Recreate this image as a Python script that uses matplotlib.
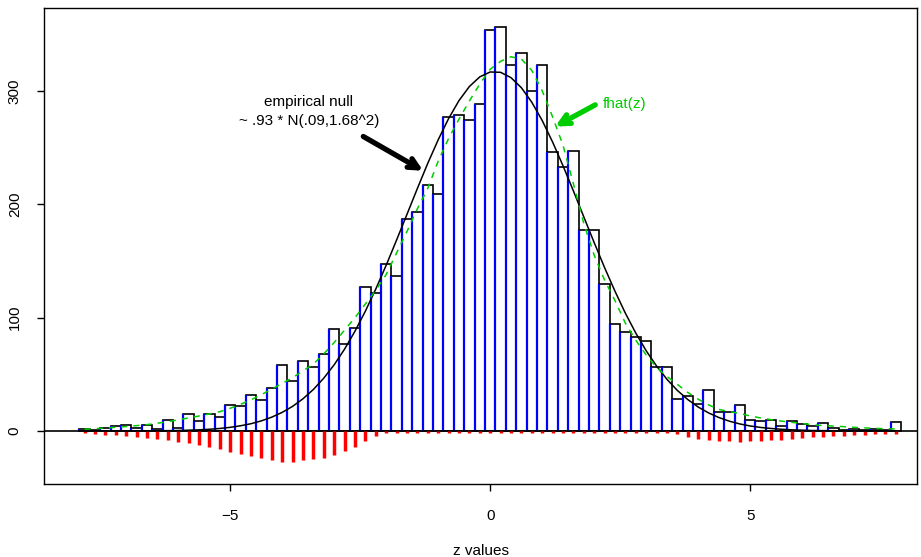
import numpy as np
import matplotlib.pyplot as plt

plt.rcParams['font.family'] = ['Liberation Sans', 'DejaVu Sans']

# histogram of z values: bins of width 0.2 starting at -7.9
bin_left = -7.9
bin_width = 0.2
counts = [2, 1, 3, 4, 5, 3, 5, 2, 10, 3,
          15, 9, 15, 12, 23, 22, 32, 27, 38, 58,
          44, 62, 56, 68, 90, 77, 91, 127, 122, 147,
          137, 187, 193, 217, 209, 277, 279, 274, 288, 354,
          356, 323, 333, 300, 323, 246, 233, 247, 177, 177,
          130, 94, 87, 83, 79, 56, 56, 28, 31, 24,
          36, 17, 17, 23, 10, 9, 10, 4, 9, 6,
          4, 7, 3, 1, 2, 1, 2, 1, 8]

# empirical null curve, read at the bin centres
null_fit = [0.0, 0.0, 0.0, 0.0, 0.0, 0.1, 0.1, 0.2, 0.3, 0.4,
            0.7, 1.0, 1.5, 2.2, 3.2, 4.6, 6.4, 8.9, 12.2, 16.4,
            21.7, 28.4, 36.6, 46.6, 58.4, 72.2, 88.0, 105.7, 125.2, 146.2,
            168.4, 191.1, 213.9, 236.1, 256.8, 275.5, 291.4, 303.8, 312.3, 316.6,
            316.3, 311.6, 302.7, 289.9, 273.8, 254.8, 233.9, 211.7, 188.8, 166.1,
            144.0, 123.2, 103.8, 86.3, 70.7, 57.2, 45.5, 35.7, 27.7, 21.1,
            15.9, 11.8, 8.6, 6.2, 4.4, 3.1, 2.2, 1.5, 1.0, 0.7,
            0.4, 0.3, 0.2, 0.1, 0.1, 0.0, 0.0, 0.0, 0.0]

# fhat(z), read at the bin centres
fhat = [1.5, 2.0, 2.6, 3.2, 3.9, 4.7, 5.6, 6.8, 8.2, 9.8,
        11.5, 13.2, 15.0, 17.0, 20.0, 23.5, 27.5, 32, 37, 42,
        47, 53, 59, 68, 78, 89, 100, 112, 124, 138,
        157, 176, 196, 214, 238, 258, 275, 291, 306, 319,
        326, 330, 328, 318, 300, 277, 252, 218, 183, 155,
        133, 115, 95, 80, 67, 56, 48, 41, 34, 28,
        23, 19, 17, 15.5, 13.2, 11.5, 10.0, 8.7, 7.6, 6.6,
        5.5, 4.8, 4.3, 3.8, 3.2, 2.7, 2.3, 2.0, 1.7]

# estimated non-null counts (drawn downward)
nonnull = [2, 2.6, 3.2, 3.8, 4.4, 5, 5.9, 7, 8.2, 9.4,
           10.9, 12.6, 14.4, 16.2, 18.2, 20.3, 22.5, 24, 26, 27,
           27.2, 26, 25, 23.5, 21.6, 17.5, 14, 9, 4, 2.2,
           2.2, 2.2, 2.2, 2.2, 2.2, 2.2, 2.2, 2.2, 2.2, 2.2,
           2.2, 2.2, 2.2, 2.2, 2.2, 2.2, 2.2, 2.2, 2.2, 2.2,
           2.2, 2.2, 2.2, 2.2, 2.2, 2.2, 2.2, 3, 5, 7,
           8.2, 8.8, 9.1, 9.4, 8.8, 8.6, 8, 7.6, 7, 6.3,
           5.6, 5.1, 4.5, 4, 3.8, 3.3, 3.1, 2.8, 2.4]

green = '#00CD00'

n = len(counts)
edges = bin_left + bin_width * np.arange(n + 1)
mids = edges[:-1] + bin_width / 2

fig = plt.figure(figsize=(9.21, 5.57), dpi=100)
ax = fig.add_axes([0.0478, 0.131, 0.948, 0.855])

ax.bar(edges[:-1], counts, width=bin_width, align='edge', fill=False,
       edgecolor='black', linewidth=1.2)
ax.vlines(edges[:-1], 0, counts, color='blue', linewidth=1.6)
ax.axhline(0, color='black', linewidth=1.2)
ax.vlines(mids, 0, -np.array(nonnull), color='red', linewidth=2.5)
ax.plot(mids, null_fit, color='black', linewidth=1.1)
ax.plot(mids, fhat, color=green, linewidth=1.1, linestyle=(0, (4, 4)))

# annotations
ax.text(-3.49, 289.7, 'empirical null', ha='center', va='center', fontsize=11)
ax.text(-3.49, 273, '~ .93 * N(.09,1.68^2)', ha='center', va='center', fontsize=11)
ax.annotate('', xy=(-1.29, 229.5), xytext=(-2.44, 259.7),
            arrowprops=dict(arrowstyle='->,head_length=0.7,head_width=0.35',
                            color='black', lw=3.8, shrinkA=0, shrinkB=0))
ax.text(2.17, 288.5, 'fhat(z)', ha='left', va='center', fontsize=11, color=green)
ax.annotate('', xy=(1.25, 268.5), xytext=(2.02, 287.6),
            arrowprops=dict(arrowstyle='->,head_length=0.7,head_width=0.35',
                            color=green, lw=3.8, shrinkA=0, shrinkB=0))

ax.set_xlim(-8.58, 8.21)
ax.set_ylim(-46.8, 373.2)
ax.set_xticks([-5, 0, 5])
ax.set_yticks([0, 100, 200, 300])
ax.set_xticklabels(['\u22125', '0', '5'])
ax.tick_params(axis='both', direction='out', length=5, width=1, labelsize=11)
ax.tick_params(axis='x', pad=13)
ax.tick_params(axis='y', pad=11, labelrotation=90)
for lab in ax.get_yticklabels():
    lab.set_va('center')
for s in ax.spines.values():
    s.set_linewidth(1)
ax.set_xlabel('z values', fontsize=11, labelpad=15)

fig.savefig('out.png', dpi=100)
